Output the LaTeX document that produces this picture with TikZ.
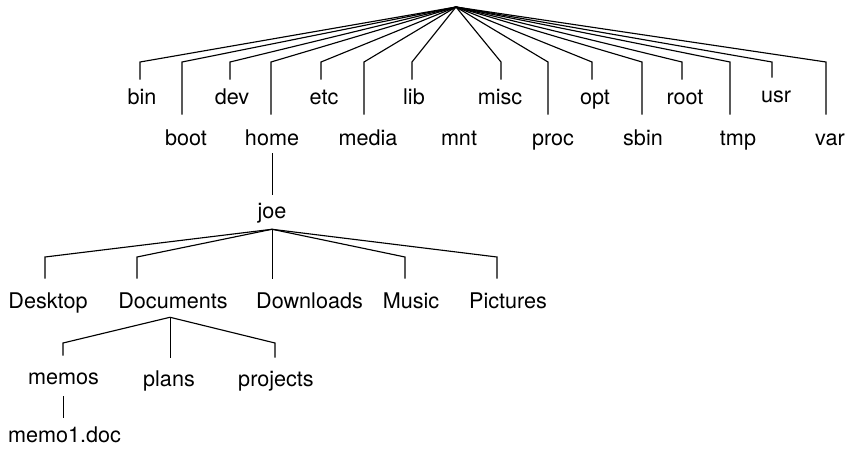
\documentclass[tikz,border=0pt]{standalone}
\usepackage{fontspec}
\setmainfont{TeX Gyre Heros}
\begin{document}
\begin{tikzpicture}[x=0.75pt,y=-0.75pt,
  lbl/.style={font=\fontsize{16.2}{19}\selectfont, anchor=base, inner xsep=0pt, text height=12pt, text depth=0pt},
  rowa/.style={lbl, inner ysep=6pt},
  rowb/.style={lbl, inner ysep=10.5pt},
  rowc/.style={lbl, inner ysep=9.75pt},
  rowd/.style={lbl, inner ysep=9pt},
  link/.style={draw=black, line width=0.85pt, line join=miter},
  vlink/.style={link, line width=0.7pt}]
\useasboundingbox (0,0) rectangle (846,451);
\coordinate (root) at (456,7);
% first level
\node[rowa] (bin) at (142,104) {bin};
\node[rowb] (boot) at (186,145) {boot};
\node[rowa] (dev) at (232,104) {dev};
\node[rowb] (home) at (272,145) {home};
\node[rowa] (etc) at (324,104) {etc};
\node[rowb] (media) at (368,145) {media};
\node[rowa] (lib) at (414,104) {lib};
\node[rowb] (mnt) at (459,145) {mnt};
\node[rowa] (misc) at (500,104) {misc};
\node[rowb] (proc) at (553,145) {proc};
\node[rowa] (opt) at (595,104) {opt};
\node[rowb] (sbin) at (643,145) {sbin};
\node[rowa] (rootdir) at (685,104) {root};
\node[rowb] (tmp) at (738,145) {tmp};
\node[rowa] (usr) at (776,102) {usr};
\node[rowb] (var) at (830,145) {var};
\draw[link] (root) -- (140,62) -- (140,62 |- bin.north);
\draw[link] (root) -- (182,62) -- (182,62 |- boot.north);
\draw[link] (root) -- (230,62) -- (230,62 |- dev.north);
\draw[link] (root) -- (271,62) -- (271,62 |- home.north);
\draw[link] (root) -- (321,62) -- (321,62 |- etc.north);
\draw[link] (root) -- (364,62) -- (364,62 |- media.north);
\draw[link] (root) -- (412,62) -- (412,62 |- lib.north);
\draw[link] (root) -- (501,62) -- (501,62 |- misc.north);
\draw[link] (root) -- (548,62) -- (548,62 |- proc.north);
\draw[link] (root) -- (592,62) -- (592,62 |- opt.north);
\draw[link] (root) -- (642,62) -- (642,62 |- sbin.north);
\draw[link] (root) -- (682,62) -- (682,62 |- rootdir.north);
\draw[link] (root) -- (730,62) -- (730,62 |- tmp.north);
\draw[link] (root) -- (772,62) -- (772,62 |- usr.north);
\draw[link] (root) -- (826,62) -- (826,62 |- var.north);
% joe
\node[lbl, inner ysep=5.25pt, text depth=3pt] (joe) at (272,218) {joe};
\draw[vlink, shorten <=-4.5pt] (home.south) -- (joe.north);
\node[rowc] (Desktop) at (48,308) {Desktop};
\node[rowc] (Documents) at (173,308) {Documents};
\node[rowc] (Downloads) at (309.5,308) {Downloads};
\node[rowc] (Music) at (411,308) {Music};
\node[rowc] (Pictures) at (508,308) {Pictures};
\draw[link] (joe.south) -- (45,257) -- (45,257 |- Desktop.north);
\draw[link] (joe.south) -- (137,257) -- (137,257 |- Documents.north);
\draw[vlink] (joe.south) -- (joe.south |- Downloads.north);
\draw[link] (joe.south) -- (405,257) -- (405,257 |- Music.north);
\draw[link] (joe.south) -- (497,257) -- (497,257 |- Pictures.north);
% Documents
\coordinate (dochub) at ([shift={(-3,-4)}]Documents.south);
\node[rowd] (memos) at (63.5,384) {memos};
\node[rowd] (plans) at (169,386) {plans};
\node[rowd] (projects) at (276,386) {projects};
\draw[link] (dochub) -- (63,343) -- (63,343 |- memos.north);
\draw[vlink] (dochub) -- (dochub |- plans.north);
\draw[link] (dochub) -- (275,343) -- (275,343 |- projects.north);
\node[rowa] (memo1) at (64.5,442) {memo1.doc};
\draw[vlink] (memos.south) -- (memos.south |- memo1.north);
\end{tikzpicture}
\end{document}
